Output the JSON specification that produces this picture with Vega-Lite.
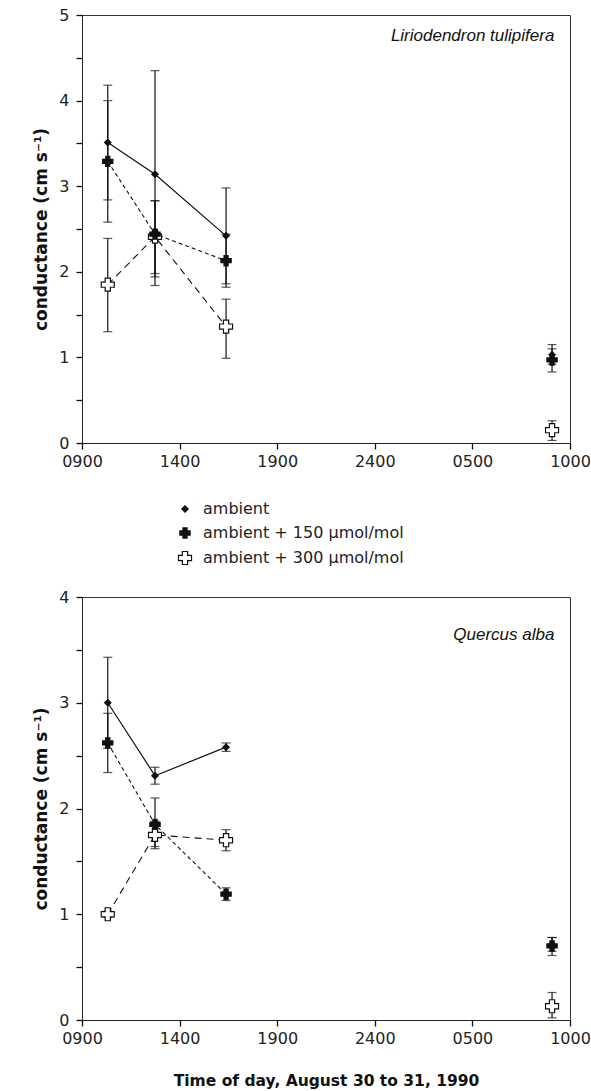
{
  "$schema": "https://vega.github.io/schema/vega-lite/v6.json",
  "background": "white",
  "padding": {"left": 32, "top": 6, "right": 0, "bottom": 0},
  "config": {
    "font": "DejaVu Sans",
    "view": {"stroke": "#333", "strokeWidth": 1},
    "axis": {"domainColor": "#222", "ticks": true, "tickColor": "#111", "tickWidth": 1.3, "tickOpacity": 1, "labelColor": "#222", "titleColor": "#111", "labelFontSize": 16, "titleFontSize": 16, "titleFontWeight": "bold", "grid": false, "labelFlush": false, "labelFont": "DejaVu Sans", "titleFont": "DejaVu Sans"},
    "legend": {"labelFont": "DejaVu Sans"}
  },
  "datasets": {
    "d": [
      {"panel": "L", "series": "ambient + 300 µmol/mol", "x": 10.32, "y": 1.85, "lo": 1.3, "hi": 2.39},
      {"panel": "L", "series": "ambient + 300 µmol/mol", "x": 12.74, "y": 2.41, "lo": 1.84, "hi": 2.83},
      {"panel": "L", "series": "ambient + 300 µmol/mol", "x": 16.38, "y": 1.36, "lo": 0.99, "hi": 1.68},
      {"panel": "L", "series": "ambient + 300 µmol/mol", "x": 33.08, "y": 0.15, "lo": 0.03, "hi": 0.26},
      {"panel": "L", "series": "ambient + 150 µmol/mol", "x": 10.32, "y": 3.29, "lo": 2.58, "hi": 4.0},
      {"panel": "L", "series": "ambient + 150 µmol/mol", "x": 12.74, "y": 2.44, "lo": 1.98, "hi": 2.83},
      {"panel": "L", "series": "ambient + 150 µmol/mol", "x": 16.38, "y": 2.13, "lo": 1.82, "hi": 2.44},
      {"panel": "L", "series": "ambient + 150 µmol/mol", "x": 33.08, "y": 0.97, "lo": 0.83, "hi": 1.1},
      {"panel": "L", "series": "ambient", "x": 10.32, "y": 3.51, "lo": 2.84, "hi": 4.18},
      {"panel": "L", "series": "ambient", "x": 12.74, "y": 3.14, "lo": 1.94, "hi": 4.35},
      {"panel": "L", "series": "ambient", "x": 16.38, "y": 2.42, "lo": 1.86, "hi": 2.98},
      {"panel": "L", "series": "ambient", "x": 33.08, "y": 1.03, "lo": 0.92, "hi": 1.15},
      {"panel": "Q", "series": "ambient + 300 µmol/mol", "x": 10.32, "y": 1.0, "lo": 0.97, "hi": 1.03},
      {"panel": "Q", "series": "ambient + 300 µmol/mol", "x": 12.74, "y": 1.75, "lo": 1.64, "hi": 1.88},
      {"panel": "Q", "series": "ambient + 300 µmol/mol", "x": 16.38, "y": 1.7, "lo": 1.6, "hi": 1.8},
      {"panel": "Q", "series": "ambient + 300 µmol/mol", "x": 33.08, "y": 0.13, "lo": 0.02, "hi": 0.26},
      {"panel": "Q", "series": "ambient + 150 µmol/mol", "x": 10.32, "y": 2.62, "lo": 2.34, "hi": 2.9},
      {"panel": "Q", "series": "ambient + 150 µmol/mol", "x": 12.74, "y": 1.85, "lo": 1.62, "hi": 2.1},
      {"panel": "Q", "series": "ambient + 150 µmol/mol", "x": 16.38, "y": 1.19, "lo": 1.13, "hi": 1.25},
      {"panel": "Q", "series": "ambient + 150 µmol/mol", "x": 33.08, "y": 0.7, "lo": 0.61, "hi": 0.78},
      {"panel": "Q", "series": "ambient", "x": 10.32, "y": 3.0, "lo": 2.57, "hi": 3.43},
      {"panel": "Q", "series": "ambient", "x": 12.74, "y": 2.31, "lo": 2.23, "hi": 2.39},
      {"panel": "Q", "series": "ambient", "x": 16.38, "y": 2.58, "lo": 2.54, "hi": 2.62},
      {"panel": "Q", "series": "ambient", "x": 33.08, "y": 0.72, "lo": 0.65, "hi": 0.78}
    ]
  },
  "resolve": {"legend": {"shape": "independent", "fill": "independent", "size": "independent"}},
  "spacing": 20,
  "vconcat": [
    {
      "width": 488,
      "height": 428,
      "data": {"name": "d"},
      "transform": [{"filter": "datum.panel === 'L'"}],
      "layer": [
        {
          "transform": [{"filter": "datum.series === 'ambient' && datum.x < 20"}],
          "mark": {"type": "line", "color": "#111", "strokeWidth": 1.2},
          "encoding": {
            "x": {"field": "x", "type": "quantitative", "scale": {"domain": [9, 34], "nice": false}, "axis": {"values": [9, 14, 19, 24, 29, 34], "labelExpr": "datum.value == 9 ? '0900' : datum.value == 14 ? '1400' : datum.value == 19 ? '1900' : datum.value == 24 ? '2400' : datum.value == 29 ? '0500' : '1000'", "title": null, "labelPadding": 4, "tickSize": 6}},
            "y": {"field": "y", "type": "quantitative", "scale": {"domain": [0, 5], "nice": false}, "axis": {"values": [0, 0.25, 0.5, 0.75, 1, 1.25, 1.5, 1.75, 2, 2.25, 2.5, 2.75, 3, 3.25, 3.5, 3.75, 4, 4.25, 4.5, 4.75, 5], "labelExpr": "datum.value % 1 == 0 ? format(datum.value, 'd') : ''", "labelOverlap": false, "tickSize": 6, "labelPadding": 7, "title": "conductance (cm s⁻¹)", "titleFontSize": 17, "titlePadding": 8}}
          }
        },
        {
          "transform": [{"filter": "datum.series === 'ambient + 150 µmol/mol' && datum.x < 20"}],
          "mark": {"type": "line", "color": "#111", "strokeWidth": 1.1, "strokeDash": [4, 3]},
          "encoding": {"x": {"field": "x", "type": "quantitative"}, "y": {"field": "y", "type": "quantitative"}}
        },
        {
          "transform": [{"filter": "datum.series === 'ambient + 300 µmol/mol' && datum.x < 20"}],
          "mark": {"type": "line", "color": "#111", "strokeWidth": 1.1, "strokeDash": [7, 5]},
          "encoding": {"x": {"field": "x", "type": "quantitative"}, "y": {"field": "y", "type": "quantitative"}}
        },
        {
          "mark": {"type": "rule", "color": "#111", "strokeWidth": 1.2},
          "encoding": {"x": {"field": "x", "type": "quantitative"}, "y": {"field": "lo", "type": "quantitative", "title": "conductance (cm s⁻¹)"}, "y2": {"field": "hi"}}
        },
        {
          "mark": {"type": "tick", "orient": "horizontal", "size": 9, "thickness": 1.2, "color": "#111"},
          "encoding": {"x": {"field": "x", "type": "quantitative"}, "y": {"field": "lo", "type": "quantitative", "title": "conductance (cm s⁻¹)"}}
        },
        {
          "mark": {"type": "tick", "orient": "horizontal", "size": 9, "thickness": 1.2, "color": "#111"},
          "encoding": {"x": {"field": "x", "type": "quantitative"}, "y": {"field": "hi", "type": "quantitative", "title": "conductance (cm s⁻¹)"}}
        },
        {
          "mark": {"type": "point", "stroke": "#111", "strokeWidth": 1.2, "opacity": 1, "fillOpacity": 1},
          "encoding": {
            "x": {"field": "x", "type": "quantitative"},
            "y": {"field": "y", "type": "quantitative"},
            "shape": {"field": "series", "type": "nominal", "scale": {"domain": ["ambient", "ambient + 150 µmol/mol", "ambient + 300 µmol/mol"], "range": ["diamond", "cross", "cross"]}, "legend": {"orient": "none", "legendX": 95, "legendY": 486, "title": null, "labelFontSize": 16, "labelColor": "#222", "labelLimit": 0, "labelOffset": 10, "rowPadding": 8, "symbolStrokeWidth": 1.2}},
            "fill": {"field": "series", "type": "nominal", "scale": {"domain": ["ambient", "ambient + 150 µmol/mol", "ambient + 300 µmol/mol"], "range": ["#111", "#111", "white"]}},
            "size": {"field": "series", "type": "nominal", "scale": {"domain": ["ambient", "ambient + 150 µmol/mol", "ambient + 300 µmol/mol"], "range": [40, 170, 170]}}
          }
        },
        {
          "data": {"values": [{"t": "Liriodendron tulipifera", "x": 33.2, "y": 4.75}]},
          "mark": {"type": "text", "align": "right", "baseline": "middle", "fontStyle": "italic", "fontSize": 17, "color": "#111", "font": "Liberation Sans"},
          "encoding": {"x": {"field": "x", "type": "quantitative"}, "y": {"field": "y", "type": "quantitative", "title": "conductance (cm s⁻¹)"}, "text": {"field": "t"}}
        }
      ]
    },
    {
      "width": 488,
      "height": 423,
      "data": {"name": "d"},
      "transform": [{"filter": "datum.panel === 'Q'"}],
      "layer": [
        {
          "transform": [{"filter": "datum.series === 'ambient' && datum.x < 20"}],
          "mark": {"type": "line", "color": "#111", "strokeWidth": 1.2},
          "encoding": {
            "x": {"field": "x", "type": "quantitative", "scale": {"domain": [9, 34], "nice": false}, "axis": {"values": [9, 14, 19, 24, 29, 34], "labelExpr": "datum.value == 9 ? '0900' : datum.value == 14 ? '1400' : datum.value == 19 ? '1900' : datum.value == 24 ? '2400' : datum.value == 29 ? '0500' : '1000'", "title": "Time of day, August 30 to 31, 1990", "titleFontSize": 15.5, "titlePadding": 27, "labelPadding": 4, "tickSize": 6}},
            "y": {"field": "y", "type": "quantitative", "scale": {"domain": [0, 4], "nice": false}, "axis": {"values": [0, 0.25, 0.5, 0.75, 1, 1.25, 1.5, 1.75, 2, 2.25, 2.5, 2.75, 3, 3.25, 3.5, 3.75, 4], "labelExpr": "datum.value % 1 == 0 ? format(datum.value, 'd') : ''", "labelOverlap": false, "tickSize": 6, "labelPadding": 7, "title": "conductance (cm s⁻¹)", "titleFontSize": 17, "titlePadding": 8}}
          }
        },
        {
          "transform": [{"filter": "datum.series === 'ambient + 150 µmol/mol' && datum.x < 20"}],
          "mark": {"type": "line", "color": "#111", "strokeWidth": 1.1, "strokeDash": [4, 3]},
          "encoding": {"x": {"field": "x", "type": "quantitative"}, "y": {"field": "y", "type": "quantitative"}}
        },
        {
          "transform": [{"filter": "datum.series === 'ambient + 300 µmol/mol' && datum.x < 20"}],
          "mark": {"type": "line", "color": "#111", "strokeWidth": 1.1, "strokeDash": [7, 5]},
          "encoding": {"x": {"field": "x", "type": "quantitative"}, "y": {"field": "y", "type": "quantitative"}}
        },
        {
          "mark": {"type": "rule", "color": "#111", "strokeWidth": 1.2},
          "encoding": {"x": {"field": "x", "type": "quantitative"}, "y": {"field": "lo", "type": "quantitative", "title": "conductance (cm s⁻¹)"}, "y2": {"field": "hi"}}
        },
        {
          "mark": {"type": "tick", "orient": "horizontal", "size": 9, "thickness": 1.2, "color": "#111"},
          "encoding": {"x": {"field": "x", "type": "quantitative"}, "y": {"field": "lo", "type": "quantitative", "title": "conductance (cm s⁻¹)"}}
        },
        {
          "mark": {"type": "tick", "orient": "horizontal", "size": 9, "thickness": 1.2, "color": "#111"},
          "encoding": {"x": {"field": "x", "type": "quantitative"}, "y": {"field": "hi", "type": "quantitative", "title": "conductance (cm s⁻¹)"}}
        },
        {
          "mark": {"type": "point", "stroke": "#111", "strokeWidth": 1.2, "opacity": 1, "fillOpacity": 1},
          "encoding": {
            "x": {"field": "x", "type": "quantitative"},
            "y": {"field": "y", "type": "quantitative"},
            "shape": {"field": "series", "type": "nominal", "scale": {"domain": ["ambient", "ambient + 150 µmol/mol", "ambient + 300 µmol/mol"], "range": ["diamond", "cross", "cross"]}, "legend": null},
            "fill": {"field": "series", "type": "nominal", "scale": {"domain": ["ambient", "ambient + 150 µmol/mol", "ambient + 300 µmol/mol"], "range": ["#111", "#111", "white"]}, "legend": null},
            "size": {"field": "series", "type": "nominal", "scale": {"domain": ["ambient", "ambient + 150 µmol/mol", "ambient + 300 µmol/mol"], "range": [40, 170, 170]}, "legend": null}
          }
        },
        {
          "data": {"values": [{"t": "Quercus alba", "x": 33.2, "y": 3.64}]},
          "mark": {"type": "text", "align": "right", "baseline": "middle", "fontStyle": "italic", "fontSize": 17, "color": "#111", "font": "Liberation Sans"},
          "encoding": {"x": {"field": "x", "type": "quantitative"}, "y": {"field": "y", "type": "quantitative", "title": "conductance (cm s⁻¹)"}, "text": {"field": "t"}}
        }
      ]
    }
  ]
}
